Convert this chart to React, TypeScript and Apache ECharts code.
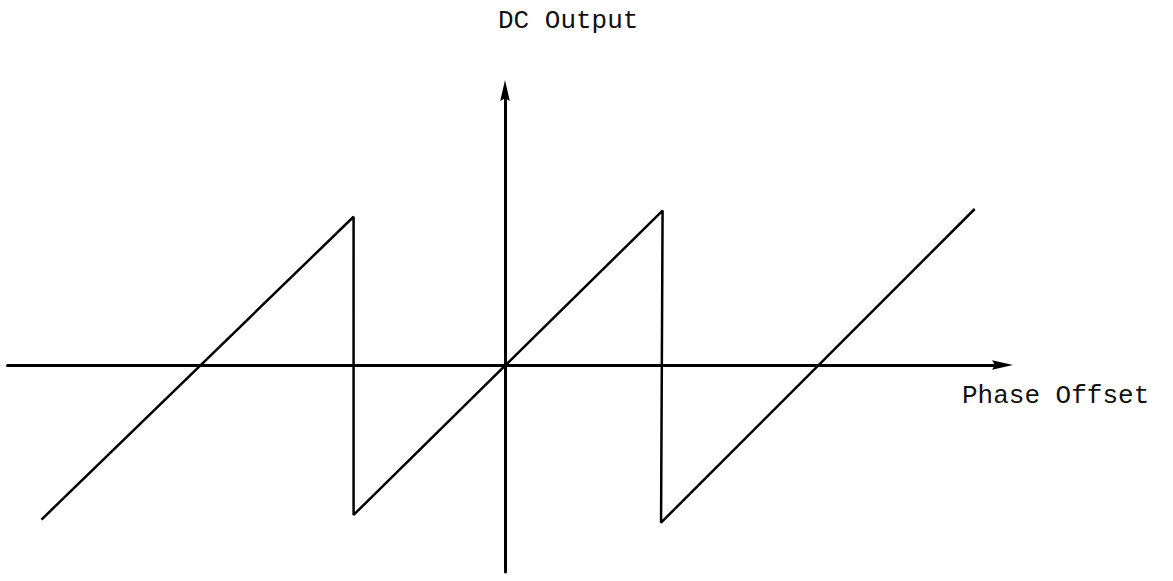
import React, { useEffect, useRef } from "react";
import * as echarts from "echarts";

// Sawtooth vertices (phase, DC output)
const phase = [-3.0, -0.98, -0.98, 1.02, 1.01, 3.04];
const output = [-1.0, 0.96, -0.97, 1.0, -1.02, 1.01];

const yTitle = "DC Output";
const xTitle = "Phase Offset";

export default function App() {
  const ref = useRef<HTMLDivElement>(null);
  useEffect(() => {
    document.body.style.margin = "0";
    const chart = echarts.init(ref.current!, null, { renderer: "svg" });
    const font = "'Liberation Mono', 'DejaVu Sans Mono', monospace";
    const arrow = "path://M5,0 L10,22 L5,19 L0,22 Z";
    chart.setOption({
      animation: false,
      backgroundColor: "#ffffff",
      grid: { left: 7.5, right: 170.5, top: 90.5, bottom: 8.9 },
      xAxis: {
        type: "value",
        min: -3.22,
        max: 3.22,
        axisLine: {
          onZero: true,
          symbol: ["none", arrow],
          symbolSize: [11, 21],
          lineStyle: { color: "#000", width: 3 },
        },
        axisTick: { show: false },
        axisLabel: { show: false },
        splitLine: { show: false },
      },
      yAxis: {
        type: "value",
        min: -1.34,
        max: 1.777,
        axisLine: {
          onZero: true,
          symbol: ["none", arrow],
          symbolSize: [11, 21],
          lineStyle: { color: "#000", width: 3 },
        },
        axisTick: { show: false },
        axisLabel: { show: false },
        splitLine: { show: false },
      },
      graphic: [
        {
          type: "text",
          x: 498,
          y: 21,
          style: {
            text: yTitle,
            font: `26px ${font}`,
            fill: "#111",
            textAlign: "left",
            textVerticalAlign: "middle",
          },
        },
        {
          type: "text",
          x: 962,
          y: 396,
          style: {
            text: xTitle,
            font: `26px ${font}`,
            fill: "#111",
            textAlign: "left",
            textVerticalAlign: "middle",
          },
        },
      ],
      series: [
        {
          type: "line",
          data: phase.map((p, i) => [p, output[i]]),
          showSymbol: false,
          symbol: "none",
          lineStyle: { color: "#000", width: 2.5 },
          silent: true,
        },
      ],
    });
    return () => chart.dispose();
  }, []);
  return <div ref={ref} style={{ width: 1173, height: 581 }} />;
}
